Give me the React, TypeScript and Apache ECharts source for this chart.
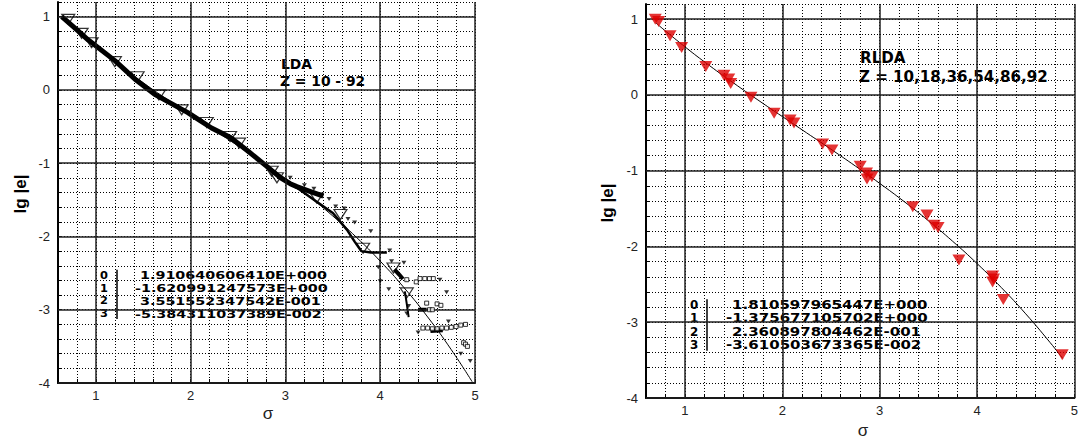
import React, { useEffect, useRef } from "react";
import * as echarts from "echarts";

// ---- axis ranges & ticks ----
const xMin = 0.6;
const xMax = 5;
const yMin = -4;
const yMax = 1.2;
const minorStep = 0.2;
const majorX = [1, 2, 3, 4, 5];
const majorY = [-4, -3, -2, -1, 0, 1];

// ---- LDA panel (left) ----
const ldaFit = [
  [0.65, 0.992], [0.8, 0.814], [1.0, 0.591], [1.25, 0.334], [1.5, 0.097], [1.75, -0.127],
  [2.0, -0.342], [2.25, -0.552], [2.5, -0.764], [2.75, -0.981], [3.0, -1.21], [3.25, -1.455],
  [3.5, -1.721], [3.75, -2.013], [4.0, -2.337], [4.25, -2.697], [4.5, -3.098], [4.75, -3.546], [4.97, -3.983],
];
const ldaBandMain = [
  [0.64, 1.0], [0.8, 0.82], [0.92, 0.68], [1.2, 0.4], [1.41, 0.15], [1.62, -0.06], [1.97, -0.31],
  [2.1, -0.42], [2.22, -0.52], [2.42, -0.65], [2.6, -0.83], [2.8, -1.04], [2.95, -1.2], [3.05, -1.28],
  [3.12, -1.32], [3.25, -1.38], [3.4, -1.45],
];
const ldaBandLower = [
  [3.05, -1.27], [3.3, -1.5], [3.5, -1.68], [3.65, -1.91], [3.73, -2.07], [3.8, -2.2], [3.9, -2.22], [4.07, -2.22],
];
const ldaClusterA = [[4.15, -2.45], [4.2, -2.52], [4.24, -2.58]];
const ldaClusterB = [[4.26, -2.75], [4.28, -2.92], [4.3, -3.1]];
const ldaClusterC = [[4.4, -3.0], [4.49, -3.0]];
const ldaClusterD = [[4.53, -3.29], [4.66, -3.28]];
const ldaOpenTri = [
  [0.708, 0.963], [0.849, 0.772], [0.955, 0.645], [1.2, 0.386], [1.44, 0.18], [1.665, -0.068],
  [1.905, -0.272], [2.17, -0.445], [2.415, -0.636], [2.51, -0.726], [2.855, -1.11], [2.91, -1.2],
  [3.33, -1.475], [3.58, -1.7], [3.82, -2.16], [4.14, -2.43], [4.28, -2.77],
];
const ldaSmallTri = [
  [3.05, -1.2], [3.2, -1.3], [3.3, -1.35], [3.46, -1.49], [3.53, -1.59], [3.62, -1.62], [3.66, -1.76],
  [3.73, -1.81], [3.9, -1.93], [4.1, -2.19], [4.12, -2.34], [4.25, -2.36], [3.98, -2.42], [4.0, -2.61],
  [4.09, -2.72], [4.63, -2.59], [4.7, -2.76], [4.3, -2.95], [4.28, -3.05], [4.72, -3.16], [4.4, -3.31],
  [4.85, -3.6], [4.95, -3.7],
];
const ldaSmallSq = [
  [4.28, -2.59], [4.38, -2.62], [4.42, -2.575], [4.47, -2.575], [4.52, -2.575], [4.56, -2.575],
  [4.49, -2.91], [4.6, -2.92], [4.64, -2.94], [4.52, -3.0], [4.55, -3.0],
  [4.45, -3.25], [4.5, -3.25], [4.55, -3.26], [4.6, -3.26], [4.65, -3.25], [4.7, -3.25], [4.75, -3.24],
  [4.8, -3.23], [4.85, -3.21], [4.9, -3.2], [4.88, -3.45], [4.9, -3.47], [4.92, -3.5],
];
const ldaCoef = ["1.910640606410E+000", "-1.620991247573E+000", "3.551552347542E-001", "-5.384311037389E-002"];

// ---- RLDA panel (right) ----
const rldaFit = [
  [0.7, 0.951], [1.0, 0.635], [1.25, 0.389], [1.5, 0.157], [1.75, -0.067], [2.0, -0.285], [2.25, -0.501],
  [2.5, -0.717], [2.75, -0.938], [3.0, -1.167], [3.25, -1.406], [3.5, -1.66], [3.75, -1.932], [4.0, -2.225],
  [4.25, -2.543], [4.5, -2.889], [4.75, -3.267], [4.88, -3.478],
];
const rldaPoints = [
  [0.695, 1.0], [0.73, 0.97], [0.847, 0.78], [0.966, 0.625], [1.214, 0.374], [1.4, 0.26], [1.45, 0.21],
  [1.47, 0.15], [1.678, -0.03], [1.916, -0.242], [2.08, -0.33], [2.12, -0.37], [2.414, -0.647],
  [2.51, -0.727], [2.8, -0.94], [2.865, -1.03], [2.87, -1.11], [2.92, -1.08], [3.34, -1.476],
  [3.486, -1.585], [3.56, -1.72], [3.6, -1.75], [3.814, -2.18], [4.16, -2.39], [4.17, -2.43],
  [4.16, -2.47], [4.27, -2.7], [4.875, -3.43],
];
const rldaCoef = ["1.810597965447E+000", "-1.375677105702E+000", "2.360897804462E-001", "-3.610503673365E-002"];

const labelFont = "'Liberation Sans', Arial, sans-serif";
const boldFont = "'DejaVu Sans Condensed', 'DejaVu Sans', sans-serif";

function intLabel(v: number) {
  const r = Math.round(v);
  return Math.abs(v - r) < 1e-6 ? String(r) : "";
}

function makeXAxis(gridIndex: number) {
  return {
    type: "value",
    gridIndex,
    min: xMin,
    max: xMax,
    interval: minorStep,
    axisLine: { show: true, onZero: false, lineStyle: { color: "#000", width: 2 } },
    axisTick: { show: true, inside: true, length: 4, lineStyle: { color: "#000", width: 1 } },
    axisLabel: { formatter: intLabel, margin: 6, fontSize: 13, color: "#222", fontFamily: labelFont },
    splitLine: { show: true, lineStyle: { color: "#000", width: 1, type: [1, 2] } },
  };
}
function makeYAxis(gridIndex: number) {
  return {
    type: "value",
    gridIndex,
    min: yMin,
    max: yMax,
    interval: minorStep,
    axisLine: { show: true, onZero: false, lineStyle: { color: "#000", width: 2 } },
    axisTick: { show: true, inside: true, length: 4, lineStyle: { color: "#000", width: 1 } },
    axisLabel: { formatter: intLabel, margin: 8, fontSize: 13, color: "#222", fontFamily: labelFont },
    splitLine: { show: true, lineStyle: { color: "#000", width: 1, type: [1, 2] } },
  };
}

function majorGrid(idx: number, carrier: number[][]) {
  return {
    type: "line",
    xAxisIndex: idx,
    yAxisIndex: idx,
    data: carrier,
    showSymbol: false,
    silent: true,
    lineStyle: { width: 0, opacity: 0 },
    z: 1,
    markLine: {
      silent: true,
      symbol: "none",
      label: { show: false },
      lineStyle: { color: "#222", width: 1.5, type: "solid" },
      data: [...majorX.map((v) => ({ xAxis: v })), ...majorY.map((v) => ({ yAxis: v }))],
    },
  };
}

function band(data: number[][], width: number) {
  return {
    type: "line",
    xAxisIndex: 0,
    yAxisIndex: 0,
    data,
    showSymbol: false,
    smooth: false,
    lineStyle: { color: "#000", width },
    z: 4,
  };
}

// coefficient table: index column, a vertical bar, value column
function tableTexts(
  coef: string[], xIdx: number, xBar: number, xPos: number, xNeg: number,
  yFirst: number, dy: number, size: number, sx: number,
) {
  const common = { fontSize: size, fontWeight: "bold", fontFamily: boldFont, fill: "#000", textVerticalAlign: "middle", textAlign: "left" };
  const out: any[] = [];
  coef.forEach((c, i) => {
    const y = yFirst + dy * i;
    out.push({ type: "text", x: xIdx, y, scaleX: 1.15, style: { ...common, text: String(i) } });
    out.push({ type: "text", x: c.startsWith("-") ? xNeg : xPos, y, scaleX: sx, style: { ...common, text: c } });
  });
  out.push({
    type: "line",
    shape: { x1: xBar, y1: yFirst - dy / 2 + 1, x2: xBar, y2: yFirst + dy * (coef.length - 0.5) - 1 },
    style: { stroke: "#000", lineWidth: 1.5 },
  });
  return out;
}

export default function App() {
  const ref = useRef<HTMLDivElement>(null);
  useEffect(() => {
    if (!ref.current) return;
    const chart = echarts.init(ref.current, undefined, { renderer: "svg" });
    const option: any = {
      animation: false,
      backgroundColor: "#fff",
      grid: [
        { left: 58, top: 2, width: 417, height: 381 },
        { left: 646, top: 4, width: 432, height: 394 },
      ],
      xAxis: [makeXAxis(0), makeXAxis(1)],
      yAxis: [makeYAxis(0), makeYAxis(1)],
      series: [
        majorGrid(0, ldaFit),
        majorGrid(1, rldaFit),
        band(ldaBandMain, 5),
        band(ldaBandLower, 2.5),
        band(ldaClusterA, 4),
        band(ldaClusterB, 2),
        band(ldaClusterC, 4),
        band(ldaClusterD, 4),
        {
          type: "line",
          xAxisIndex: 0,
          yAxisIndex: 0,
          data: ldaFit,
          smooth: true,
          showSymbol: false,
          lineStyle: { color: "#000", width: 1 },
          z: 5,
        },
        {
          type: "scatter",
          xAxisIndex: 0,
          yAxisIndex: 0,
          data: ldaOpenTri,
          symbol: "triangle",
          symbolRotate: 180,
          symbolSize: [13, 10],
          itemStyle: { color: "rgba(255,255,255,0)", borderColor: "#000", borderWidth: 1.2 },
          z: 6,
        },
        {
          type: "scatter",
          xAxisIndex: 0,
          yAxisIndex: 0,
          data: ldaSmallTri,
          symbol: "triangle",
          symbolRotate: 180,
          symbolSize: [5, 4],
          itemStyle: { color: "#000" },
          z: 6,
        },
        {
          type: "scatter",
          xAxisIndex: 0,
          yAxisIndex: 0,
          data: ldaSmallSq,
          symbol: "rect",
          symbolSize: 4,
          itemStyle: { color: "#fff", borderColor: "#000", borderWidth: 1 },
          z: 6,
        },
        {
          type: "line",
          xAxisIndex: 1,
          yAxisIndex: 1,
          data: rldaFit,
          smooth: true,
          showSymbol: false,
          lineStyle: { color: "#000", width: 1 },
          z: 5,
        },
        {
          type: "scatter",
          xAxisIndex: 1,
          yAxisIndex: 1,
          data: rldaPoints,
          symbol: "triangle",
          symbolRotate: 180,
          symbolSize: [13, 11],
          itemStyle: { color: "#dd0000" },
          z: 6,
        },
      ],
      graphic: [
        { type: "text", x: 20, y: 194, rotation: Math.PI / 2, style: { text: "lg |e|", fontSize: 17, fontWeight: "bold", fontFamily: labelFont, fill: "#000", textAlign: "center", textVerticalAlign: "middle" } },
        { type: "text", x: 607, y: 203, rotation: Math.PI / 2, style: { text: "lg |e|", fontSize: 17, fontWeight: "bold", fontFamily: labelFont, fill: "#000", textAlign: "center", textVerticalAlign: "middle" } },
        { type: "text", x: 268, y: 413, style: { text: "σ", fontSize: 17, fontFamily: labelFont, fill: "#222", textAlign: "center", textVerticalAlign: "middle" } },
        { type: "text", x: 863, y: 430, style: { text: "σ", fontSize: 17, fontFamily: labelFont, fill: "#222", textAlign: "center", textVerticalAlign: "middle" } },
        { type: "text", x: 281, y: 63.5, scaleX: 1.1, style: { text: "LDA", fontSize: 14, fontWeight: "bold", fontFamily: boldFont, fill: "#000", textVerticalAlign: "middle" } },
        { type: "text", x: 280, y: 80.5, scaleX: 1.1, style: { text: "Z = 10 - 92", fontSize: 14, fontWeight: "bold", fontFamily: boldFont, fill: "#000", textVerticalAlign: "middle" } },
        { type: "text", x: 860, y: 58, scaleX: 1.12, style: { text: "RLDA", fontSize: 15, fontWeight: "bold", fontFamily: boldFont, fill: "#000", textVerticalAlign: "middle" } },
        { type: "text", x: 859, y: 76.5, scaleX: 1.12, style: { text: "Z = 10,18,36,54,86,92", fontSize: 15, fontWeight: "bold", fontFamily: boldFont, fill: "#000", textVerticalAlign: "middle" } },
        ...tableTexts(ldaCoef, 100, 117, 140, 135, 275.1, 12.8, 11, 1.45),
        ...tableTexts(rldaCoef, 690, 707, 732, 726, 304.9, 13.4, 11.5, 1.45),
      ],
    };
    chart.setOption(option);
    return () => chart.dispose();
  }, []);
  return <div ref={ref} style={{ position: "fixed", left: 0, top: 0, width: 1081, height: 439 }} />;
}
